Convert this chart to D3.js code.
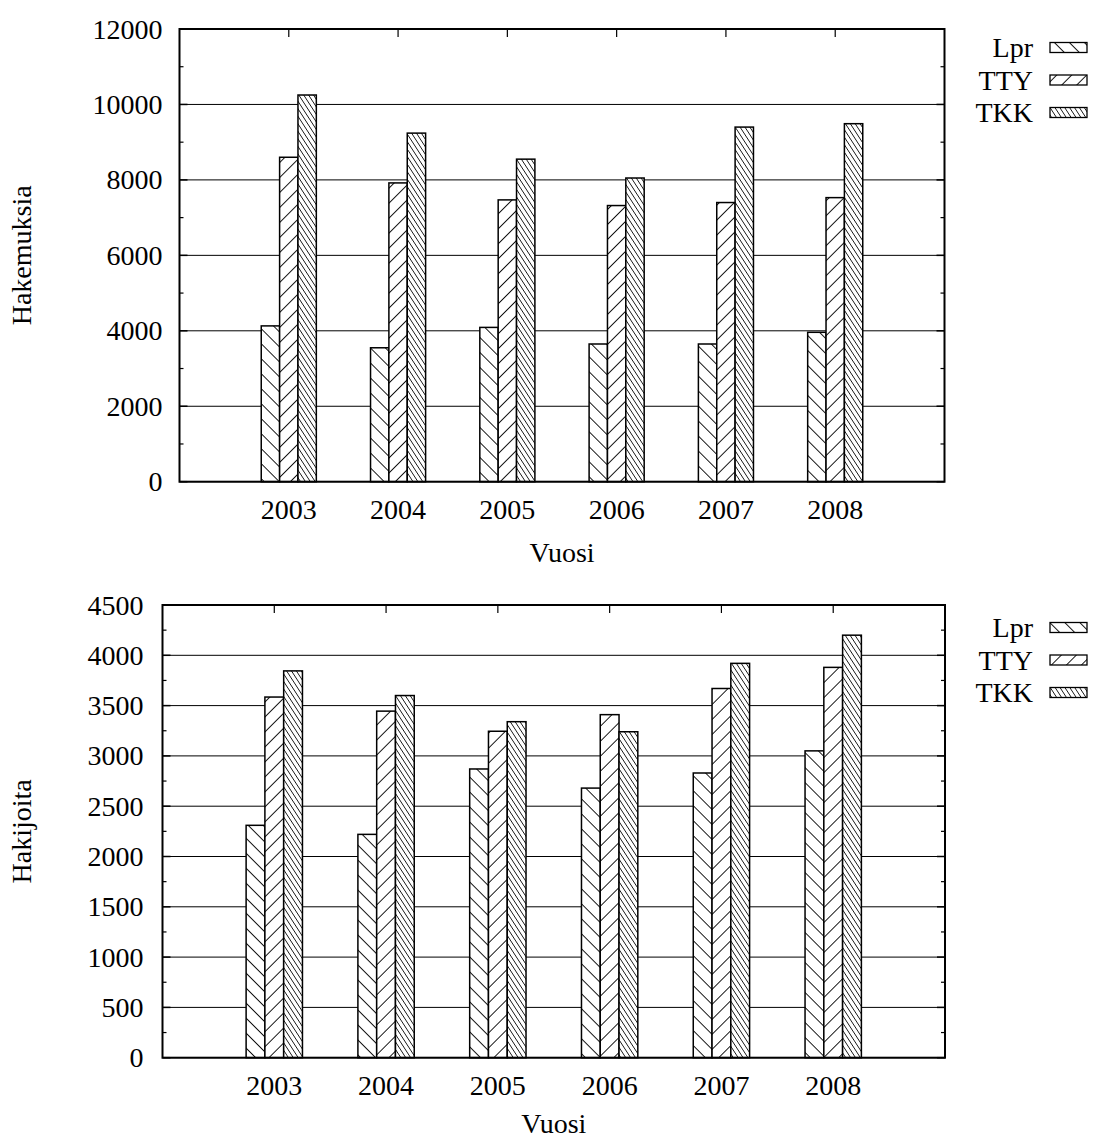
<!DOCTYPE html>
<html lang="fi">
<head>
    <meta charset="UTF-8">
    <title>Hakemuksia ja hakijoita</title>
    <script src="https://d3js.org/d3.v7.min.js"></script>
    <style>
        body {
            margin: 0;
            background: #fff;
            overflow: hidden;
        }
        svg {
            display: block;
        }
        svg text {
            font-family: 'Liberation Serif', 'Times New Roman', serif;
            font-size: 28px;
            fill: #000;
        }
    </style>
</head>
<body>
    <svg id="chart" width="1094" height="1142"></svg>

    <script>
        // data
        const years = ["2003", "2004", "2005", "2006", "2007", "2008"];
        const seriesNames = ["Lpr", "TTY", "TKK"];

        const hakemuksiaLpr = [4130, 3550, 4090, 3650, 3650, 3960];
        const hakemuksiaTTY = [8600, 7920, 7470, 7320, 7400, 7530];
        const hakemuksiaTKK = [10250, 9240, 8550, 8050, 9400, 9490];

        const hakijoitaLpr = [2310, 2220, 2870, 2680, 2830, 3050];
        const hakijoitaTTY = [3585, 3445, 3245, 3410, 3670, 3880];
        const hakijoitaTKK = [3845, 3600, 3340, 3240, 3920, 4200];

        const topTicks = [0, 2000, 4000, 6000, 8000, 10000, 12000];
        const bottomTicks = [0, 500, 1000, 1500, 2000, 2500, 3000, 3500, 4000, 4500];

        const svg = d3.select("#chart");
        const defs = svg.append("defs");

        // hatch patterns: [id, spacing, angle, line width]
        const hatches = [["patLpr", 10.6, -45, 0.9], ["patTTY", 10.6, 45, 0.9], ["patTKK", 4.1, -33, 0.75]];
        hatches.forEach(([id, s, angle, lw]) => {
            const p = defs.append("pattern")
                .attr("id", id)
                .attr("patternUnits", "userSpaceOnUse")
                .attr("width", s)
                .attr("height", s)
                .attr("patternTransform", `rotate(${angle})`);
            p.append("rect").attr("width", s).attr("height", s).attr("fill", "#fff");
            p.append("line")
                .attr("x1", s / 2).attr("x2", s / 2)
                .attr("y1", 0).attr("y2", s)
                .attr("stroke", "#000")
                .attr("stroke-width", lw);
        });
        const patIds = ["patLpr", "patTTY", "patTKK"];

        function drawPanel(cfg) {
            const { left, right, top, bottom } = cfg;
            const g = svg.append("g");

            const x = d3.scaleLinear().domain([-1, years.length]).range([left, right]);
            const y = d3.scaleLinear().domain([0, cfg.max]).range([bottom, top]);
            const bw = 0.168;

            // grid lines
            g.selectAll(".grid")
             .data(cfg.ticks)
             .enter()
             .append("line")
             .attr("x1", left).attr("x2", right)
             .attr("y1", d => y(d)).attr("y2", d => y(d))
             .attr("stroke", "#000")
             .attr("stroke-width", 1);

            // minor + major ticks, both sides
            const step = cfg.ticks[1] - cfg.ticks[0];
            const minor = cfg.ticks.slice(0, -1).map(d => d + step / 2);
            [[left, 4], [right, -4]].forEach(([x0, len]) => {
                g.selectAll(null)
                 .data(minor)
                 .enter()
                 .append("line")
                 .attr("x1", x0).attr("x2", x0 + len)
                 .attr("y1", d => y(d)).attr("y2", d => y(d))
                 .attr("stroke", "#000")
                 .attr("stroke-width", 1.2);
                g.selectAll(null)
                 .data(cfg.ticks)
                 .enter()
                 .append("line")
                 .attr("x1", x0).attr("x2", x0 + 2 * len)
                 .attr("y1", d => y(d)).attr("y2", d => y(d))
                 .attr("stroke", "#000")
                 .attr("stroke-width", 1.5);
            });

            // x ticks mirrored at top
            g.selectAll(null)
             .data(years)
             .enter()
             .append("line")
             .attr("x1", (d, i) => x(i)).attr("x2", (d, i) => x(i))
             .attr("y1", top).attr("y2", top + 8)
             .attr("stroke", "#000")
             .attr("stroke-width", 1.2);

            // bars
            cfg.series.forEach((vals, s) => {
                g.selectAll(null)
                 .data(vals)
                 .enter()
                 .append("rect")
                 .attr("x", (d, i) => x(i + (s - 1.5) * bw))
                 .attr("y", d => y(d))
                 .attr("width", x(bw) - x(0))
                 .attr("height", d => bottom - y(d))
                 .attr("fill", `url(#${patIds[s]})`)
                 .attr("stroke", "#000")
                 .attr("stroke-width", 1.5);
            });

            // frame
            g.append("rect")
             .attr("x", left).attr("y", top)
             .attr("width", right - left).attr("height", bottom - top)
             .attr("fill", "none")
             .attr("stroke", "#000")
             .attr("stroke-width", 2);

            // y tick labels
            g.selectAll(null)
             .data(cfg.ticks)
             .enter()
             .append("text")
             .attr("x", left - cfg.labelGap)
             .attr("y", d => y(d))
             .attr("dy", "0.34em")
             .attr("text-anchor", "end")
             .text(d => d);

            // x tick labels
            g.selectAll(null)
             .data(years)
             .enter()
             .append("text")
             .attr("x", (d, i) => x(i))
             .attr("y", bottom + 37)
             .attr("text-anchor", "middle")
             .text(d => d);

            g.append("text")
             .attr("x", (left + right) / 2)
             .attr("y", bottom + cfg.titleGap)
             .attr("text-anchor", "middle")
             .text("Vuosi");

            g.append("text")
             .attr("transform", `translate(31,${(top + bottom) / 2}) rotate(-90)`)
             .attr("text-anchor", "middle")
             .text(cfg.yLabel);

            // legend
            seriesNames.forEach((name, s) => {
                const ly = cfg.legendTop + s * 32.5;
                g.append("text")
                 .attr("x", 1033)
                 .attr("y", ly)
                 .attr("dy", "0.34em")
                 .attr("text-anchor", "end")
                 .text(name);
                g.append("rect")
                 .attr("x", 1050)
                 .attr("y", ly - 5)
                 .attr("width", 37)
                 .attr("height", 10)
                 .attr("fill", `url(#${patIds[s]})`)
                 .attr("stroke", "#000")
                 .attr("stroke-width", 1.3);
            });
        }

        drawPanel({
            left: 179.5, right: 944.5, top: 29, bottom: 481.7,
            max: 12000, ticks: topTicks, labelGap: 17, titleGap: 80,
            series: [hakemuksiaLpr, hakemuksiaTTY, hakemuksiaTKK],
            yLabel: "Hakemuksia", legendTop: 47.5
        });

        drawPanel({
            left: 162.5, right: 945, top: 605, bottom: 1057.7,
            max: 4500, ticks: bottomTicks, labelGap: 19, titleGap: 75,
            series: [hakijoitaLpr, hakijoitaTTY, hakijoitaTKK],
            yLabel: "Hakijoita", legendTop: 627.5
        });
    </script>
</body>
</html>
